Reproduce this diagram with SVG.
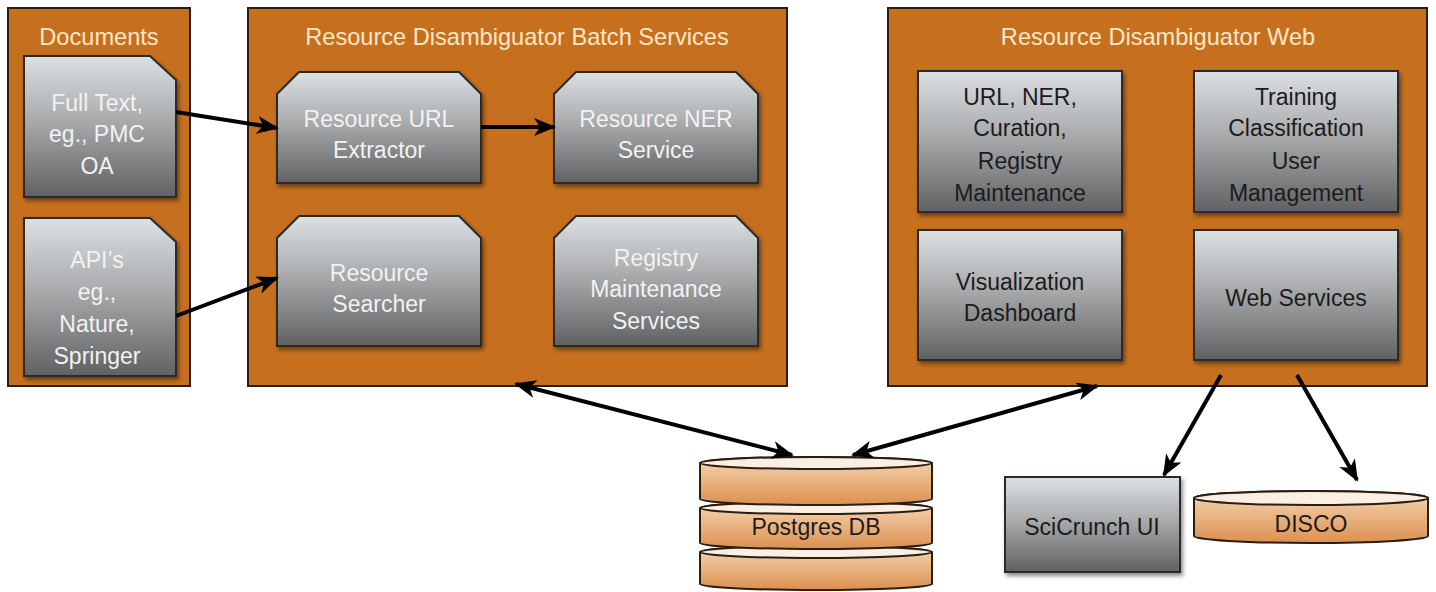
<svg xmlns="http://www.w3.org/2000/svg" width="1436" height="592" viewBox="0 0 1436 592">
<defs>
<linearGradient id="gbox" x1="0" y1="0" x2="0" y2="1"><stop offset="0" stop-color="#dde0e3"/><stop offset="0.45" stop-color="#a9abad"/><stop offset="1" stop-color="#606162"/></linearGradient>
<linearGradient id="gcyl" x1="0" y1="0" x2="0" y2="1"><stop offset="0" stop-color="#f6d6b5"/><stop offset="1" stop-color="#dc904f"/></linearGradient>
<filter id="sh" x="-10%" y="-10%" width="125%" height="130%"><feDropShadow dx="2" dy="3" stdDeviation="2" flood-color="#000" flood-opacity="0.45"/></filter>
<marker id="ah" viewBox="0 0 22 18" refX="20" refY="9" markerWidth="22" markerHeight="18" markerUnits="userSpaceOnUse" orient="auto-start-reverse"><path d="M0,0 L22,9 L0,18 L6,9 z" fill="#000"/></marker>
<style>
.cont{fill:#c6701f;stroke:#2a1d12;stroke-width:2}
.ttl{font-family:"Liberation Sans",Arial,sans-serif;font-size:23.6px;fill:#fde7c6;text-anchor:middle}
.box{fill:url(#gbox);stroke:#2b2b2b;stroke-width:2;filter:url(#sh)}
.lt{font-family:"Liberation Sans",Arial,sans-serif;font-size:23px;fill:#f2f2f2;text-anchor:middle}
.dt{font-family:"Liberation Sans",Arial,sans-serif;font-size:23px;fill:#1c1c1c;text-anchor:middle}
.cyl{fill:url(#gcyl);stroke:#2a1d12;stroke-width:2}
.cyt{fill:#fbeee2;stroke:#2a1d12;stroke-width:2}
.ar{stroke:#000;stroke-width:4;fill:none;marker-end:url(#ah)}
.ar2{stroke:#000;stroke-width:4;fill:none;marker-end:url(#ah);marker-start:url(#ah)}
</style>
</defs>
<rect width="1436" height="592" fill="#fff"/>

<g id="documents">
<rect class="cont" x="8" y="8" width="182" height="378"/>
<text class="ttl" x="99" y="45">Documents</text>
</g>
<g id="fulltext">
<path class="box" d="M24,56 L150,56 L176,80 L176,197 L24,197 z"/>
<text class="lt" x="97" y="111">Full Text,</text>
<text class="lt" x="97" y="142">eg., PMC</text>
<text class="lt" x="97" y="174">OA</text>
</g>
<g id="apis">
<path class="box" d="M24,218 L150,218 L176,242 L176,376 L24,376 z"/>
<text class="lt" x="97" y="268">API’s</text>
<text class="lt" x="97" y="300">eg.,</text>
<text class="lt" x="97" y="332">Nature,</text>
<text class="lt" x="97" y="364">Springer</text>
</g>

<g id="batch">
<rect class="cont" x="248" y="8" width="539" height="378"/>
<text class="ttl" x="517" y="45">Resource Disambiguator Batch Services</text>
</g>
<g id="urlextractor">
<path class="box" d="M299,72 L459,72 L481,94 L481,183 L277,183 L277,94 z"/>
<text class="lt" x="379" y="127">Resource URL</text>
<text class="lt" x="379" y="158">Extractor</text>
</g>
<g id="nerservice">
<path class="box" d="M576,72 L736,72 L758,94 L758,183 L554,183 L554,94 z"/>
<text class="lt" x="656" y="127">Resource NER</text>
<text class="lt" x="656" y="158">Service</text>
</g>
<g id="searcher">
<path class="box" d="M299,216 L459,216 L481,238 L481,346 L277,346 L277,238 z"/>
<text class="lt" x="379" y="281">Resource</text>
<text class="lt" x="379" y="312">Searcher</text>
</g>
<g id="registry">
<path class="box" d="M576,216 L736,216 L758,238 L758,346 L554,346 L554,238 z"/>
<text class="lt" x="656" y="266">Registry</text>
<text class="lt" x="656" y="297">Maintenance</text>
<text class="lt" x="656" y="329">Services</text>
</g>

<g id="web">
<rect class="cont" x="888" y="8" width="539" height="378"/>
<text class="ttl" x="1158" y="45">Resource Disambiguator Web</text>
</g>
<g id="urlner">
<rect class="box" x="918" y="71" width="204" height="141"/>
<text class="dt" x="1020" y="105">URL, NER,</text>
<text class="dt" x="1020" y="136">Curation,</text>
<text class="dt" x="1020" y="169">Registry</text>
<text class="dt" x="1020" y="201">Maintenance</text>
</g>
<g id="training">
<rect class="box" x="1194" y="71" width="204" height="141"/>
<text class="dt" x="1296" y="105">Training</text>
<text class="dt" x="1296" y="136">Classification</text>
<text class="dt" x="1296" y="169">User</text>
<text class="dt" x="1296" y="201">Management</text>
</g>
<g id="visualization">
<rect class="box" x="918" y="230" width="204" height="130"/>
<text class="dt" x="1020" y="290">Visualization</text>
<text class="dt" x="1020" y="321">Dashboard</text>
</g>
<g id="webservices">
<rect class="box" x="1194" y="230" width="204" height="130"/>
<text class="dt" x="1296" y="306">Web Services</text>
</g>

<g id="postgres">
<path class="cyl" d="M700,552 L700,584 A116,6 0 0 0 932,584 L932,552 A116,6 0 0 0 700,552 z"/>
<ellipse class="cyt" cx="816" cy="552" rx="116" ry="6"/>
<path class="cyl" d="M700,508 L700,543 A116,6 0 0 0 932,543 L932,508 A116,6 0 0 0 700,508 z"/>
<ellipse class="cyt" cx="816" cy="508" rx="116" ry="6"/>
<path class="cyl" d="M700,463 L700,499 A116,6 0 0 0 932,499 L932,463 A116,6 0 0 0 700,463 z"/>
<ellipse class="cyt" cx="816" cy="463" rx="116" ry="6"/>
<text class="dt" x="816" y="535">Postgres DB</text>
</g>
<g id="scicrunch">
<rect class="box" x="1005" y="477" width="175" height="95"/>
<text class="dt" x="1092" y="535">SciCrunch UI</text>
</g>
<g id="disco">
<path class="cyl" d="M1194,498 L1194,536 A117,7 0 0 0 1428,536 L1428,498 A117,7 0 0 0 1194,498 z"/>
<ellipse class="cyt" cx="1311" cy="498" rx="117" ry="7"/>
<text class="dt" x="1311" y="532">DISCO</text>
</g>

<g id="connectors">
<line class="ar" x1="176" y1="112" x2="277" y2="128"/>
<line class="ar" x1="176" y1="316" x2="277" y2="278"/>
<line class="ar" x1="481" y1="127" x2="554" y2="127"/>
<line class="ar2" x1="516" y1="384" x2="792" y2="455"/>
<line class="ar2" x1="1097" y1="386" x2="853" y2="455"/>
<line class="ar" x1="1221" y1="375" x2="1164" y2="475"/>
<line class="ar" x1="1297" y1="375" x2="1357" y2="480"/>
</g>
</svg>
